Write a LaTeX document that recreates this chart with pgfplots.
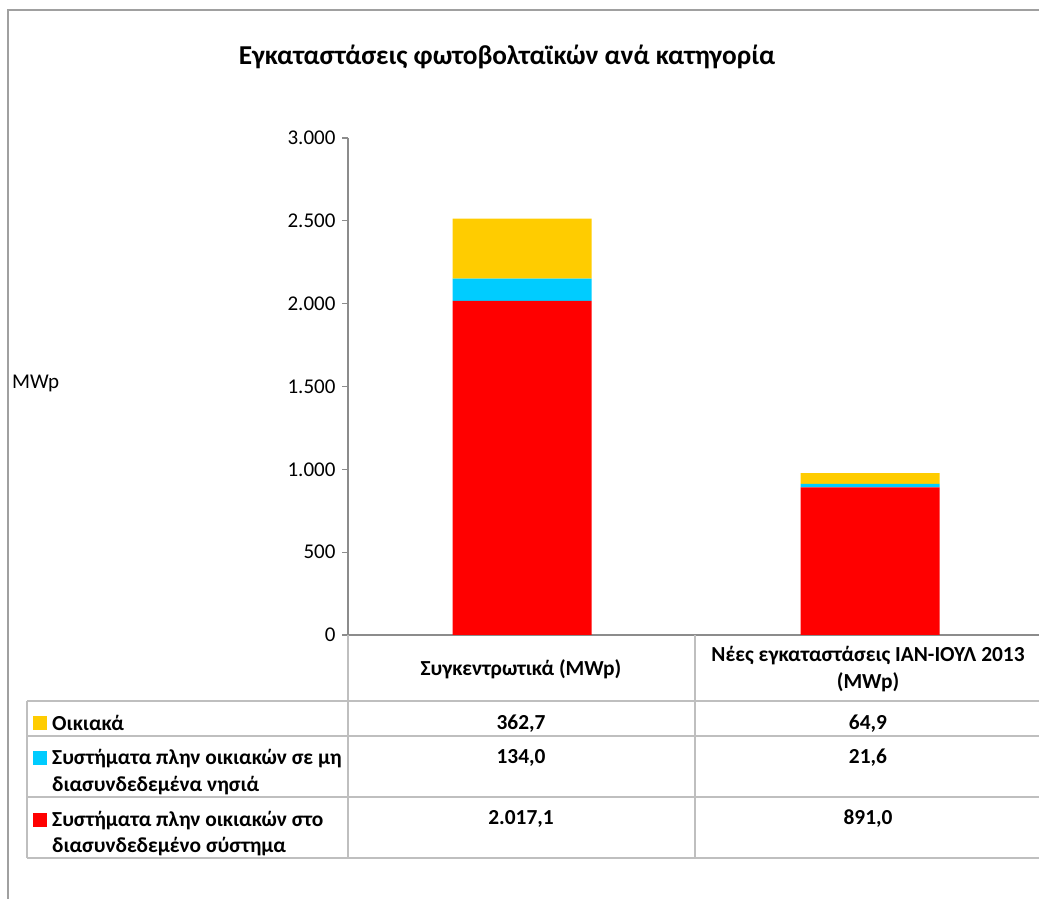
\documentclass[border=0pt]{standalone}
\usepackage{pgfplots}
\pgfplotsset{compat=1.18}
\usepackage{fontspec}
\setmainfont{Carlito}
\definecolor{cy}{HTML}{FFCC00}
\definecolor{cc}{HTML}{00CCFF}
\definecolor{cr}{HTML}{FF0000}
\definecolor{axg}{HTML}{8C8C8C}
\definecolor{tg}{HTML}{BFBFBF}
\definecolor{bordg}{HTML}{A0A0A0}
\newcommand{\tf}{\fontsize{21}{29}\selectfont}
\newcommand{\tbf}{\fontsize{21.4}{29}\selectfont\bfseries}
\begin{document}
\begin{tikzpicture}
\useasboundingbox (0,0) rectangle (1039pt,899pt);
\draw[color=bordg, line width=1.3pt] (8pt,-5pt) -- (8pt,889pt) -- (1050pt,889pt);
\node[font=\fontsize{27.3}{32}\selectfont\bfseries] at (507pt,842pt) {Εγκαταστάσεις φωτοβολταϊκών ανά κατηγορία};
\node[anchor=west, font=\tf, inner sep=0pt] at (12pt,516pt) {MWp};
\begin{axis}[at={(348pt,264pt)}, anchor=south west, scale only axis,
  width=696pt, height=497pt,
  xmin=-0.5, xmax=1.5, ymin=0, ymax=3000,
  ytick={0,500,1000,1500,2000,2500,3000},
  yticklabels={0,500,{1.000},{1.500},{2.000},{2.500},{3.000}},
  xtick=\empty, axis lines=left,
  axis line style={-, draw=axg, line width=1.2pt},
  ybar stacked, bar width=139pt,
  major tick length=6pt, tick align=outside,
  tick style={draw=axg, line width=1.2pt},
  yticklabel style={font=\tf, xshift=-3pt},
  clip=false]
\addplot[fill=cr, draw=none] coordinates {(0,2017.1) (1,891.0)};
\addplot[fill=cc, draw=none] coordinates {(0,134.0) (1,21.6)};
\addplot[fill=cy, draw=none] coordinates {(0,362.7) (1,64.9)};
\end{axis}
% table lines
\begin{scope}[draw=tg, line width=1.2pt]
\draw (27pt,198pt) -- (1050pt,198pt);
\draw (27pt,163pt) -- (1050pt,163pt);
\draw (27pt,102pt) -- (1050pt,102pt);
\draw (27pt,41pt) -- (1050pt,41pt);
\draw (27pt,198pt) -- (27pt,41pt);
\draw (348pt,264pt) -- (348pt,41pt);
\draw (695pt,264pt) -- (695pt,41pt);
\end{scope}
% header
\begin{scope}[every node/.style={font=\tbf, inner sep=0pt, anchor=base}]
\node at (521pt,223pt) {Συγκεντρωτικά (MWp)};
\node at (868pt,237pt) {Νέες εγκαταστάσεις ΙΑΝ-ΙΟΥΛ 2013};
\node at (868pt,210pt) {(MWp)};
\node at (521pt,169pt) {362,7};
\node at (868pt,169pt) {64,9};
\node at (521pt,135pt) {134,0};
\node at (868pt,135pt) {21,6};
\node at (521pt,74pt) {2.017,1};
\node at (868pt,74pt) {891,0};
\end{scope}
% legend keys
\fill[cy] (33pt,169pt) rectangle (47pt,183pt);
\fill[cc] (33pt,134pt) rectangle (47pt,148pt);
\fill[cr] (33pt,72pt) rectangle (47pt,86pt);
\begin{scope}[every node/.style={font=\tbf, inner sep=0pt, anchor=base west}]
\node at (52pt,168pt) {Οικιακά};
\node at (52pt,134pt) {Συστήματα πλην οικιακών σε μη};
\node at (52pt,107pt) {διασυνδεδεμένα νησιά};
\node at (52pt,72pt) {Συστήματα πλην οικιακών στο};
\node at (52pt,46pt) {διασυνδεδεμένο σύστημα};
\end{scope}
\end{tikzpicture}
\end{document}
